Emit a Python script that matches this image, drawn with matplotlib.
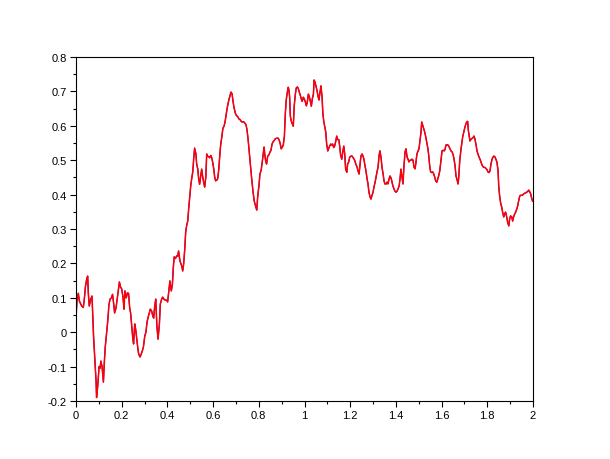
import numpy as np
import matplotlib
matplotlib.use('Agg')
import matplotlib.pyplot as plt
from matplotlib.ticker import MultipleLocator, FixedLocator, FixedFormatter

# path sampled by eye from the reference
t = [0.000, 0.004, 0.010, 0.015, 0.025, 0.032, 0.037, 0.041, 0.047, 0.051,
     0.054, 0.058, 0.064, 0.070, 0.073, 0.077, 0.083, 0.088, 0.090, 0.095,
     0.101, 0.105, 0.109, 0.114, 0.120, 0.124, 0.128, 0.134, 0.139, 0.144,
     0.149, 0.155, 0.160, 0.165, 0.169, 0.175, 0.179, 0.185, 0.190, 0.195,
     0.200, 0.206, 0.210, 0.214, 0.220, 0.225, 0.230, 0.235, 0.239, 0.244,
     0.248, 0.252, 0.257, 0.261, 0.266, 0.270, 0.274, 0.280, 0.284, 0.290,
     0.295, 0.301, 0.306, 0.311, 0.317, 0.321, 0.325, 0.331, 0.336, 0.340,
     0.344, 0.349, 0.354, 0.359, 0.365, 0.369, 0.375, 0.379, 0.385, 0.391,
     0.397, 0.401, 0.406, 0.411,
     0.413, 0.417, 0.422, 0.426, 0.430, 0.435, 0.441, 0.445, 0.449, 0.455,
     0.463, 0.467, 0.471, 0.476, 0.480, 0.484, 0.489, 0.493, 0.498, 0.502,
     0.506, 0.511, 0.515, 0.519, 0.522, 0.525, 0.528, 0.533, 0.537, 0.541,
     0.546, 0.550, 0.554, 0.559, 0.563, 0.568, 0.572, 0.576, 0.581, 0.585,
     0.590, 0.594, 0.598, 0.603, 0.607, 0.611, 0.616, 0.620, 0.625, 0.629,
     0.633, 0.638, 0.643, 0.648, 0.652, 0.656, 0.661, 0.665, 0.670, 0.674,
     0.678, 0.683, 0.687, 0.691, 0.696, 0.700, 0.705, 0.709, 0.713, 0.718,
     0.722, 0.726, 0.731, 0.735, 0.739, 0.744, 0.748, 0.753, 0.757, 0.761,
     0.769, 0.775, 0.780, 0.786, 0.791, 0.795, 0.801, 0.805, 0.810, 0.814,
     0.818, 0.823, 0.826, 0.830, 0.834, 0.839, 0.845, 0.849, 0.853, 0.858,
     0.862, 0.867, 0.872, 0.878, 0.885, 0.890, 0.894, 0.898, 0.903, 0.907,
     0.912, 0.916, 0.920, 0.925, 0.929, 0.932, 0.935, 0.938, 0.942, 0.947,
     0.951, 0.955, 0.960, 0.964, 0.969, 0.973, 0.977, 0.982, 0.986, 0.990,
     0.995, 0.999, 1.004, 1.008, 1.012, 1.017, 1.021, 1.025, 1.030, 1.034,
     1.039, 1.042, 1.046, 1.050, 1.055, 1.059, 1.063, 1.068, 1.072, 1.077,
     1.080, 1.084, 1.088, 1.093, 1.097, 1.102, 1.106, 1.110, 1.115, 1.119,
     1.123, 1.128, 1.132, 1.137, 1.141, 1.145, 1.150, 1.154, 1.158, 1.163,
     1.167, 1.172, 1.176, 1.180, 1.185, 1.189, 1.193, 1.198,
     1.204, 1.208, 1.212, 1.217, 1.221, 1.225, 1.230, 1.234, 1.239, 1.243,
     1.247, 1.252, 1.256, 1.260, 1.265, 1.269, 1.274, 1.278, 1.282, 1.287,
     1.291, 1.295, 1.300, 1.304, 1.309, 1.313, 1.317, 1.322, 1.326, 1.330,
     1.335, 1.339, 1.344, 1.348, 1.352, 1.357, 1.361, 1.365, 1.370, 1.374,
     1.379, 1.383, 1.387, 1.392, 1.396, 1.400, 1.405, 1.409, 1.414, 1.418,
     1.422, 1.427, 1.431, 1.435, 1.440, 1.444, 1.449, 1.453, 1.457, 1.462,
     1.466, 1.470, 1.475, 1.479, 1.484, 1.488, 1.492, 1.497, 1.501, 1.505,
     1.510, 1.513, 1.517, 1.522, 1.526, 1.530, 1.535, 1.539, 1.543, 1.548,
     1.552, 1.557, 1.561, 1.565, 1.570, 1.574, 1.579, 1.583, 1.587, 1.592,
     1.597, 1.602, 1.606, 1.611, 1.615, 1.619, 1.624, 1.628, 1.632, 1.637,
     1.641, 1.646, 1.650, 1.654, 1.659, 1.663, 1.667, 1.672, 1.675, 1.679,
     1.684, 1.688, 1.692, 1.697, 1.701, 1.706, 1.710, 1.714, 1.717, 1.721,
     1.724, 1.729, 1.733, 1.737, 1.742, 1.746, 1.751, 1.755, 1.759, 1.764,
     1.768, 1.772, 1.777, 1.781, 1.786, 1.790, 1.794, 1.799, 1.803, 1.807,
     1.812, 1.816, 1.821, 1.825, 1.829, 1.834, 1.838, 1.842, 1.847, 1.850,
     1.854, 1.859, 1.863, 1.867, 1.872, 1.876, 1.880, 1.885, 1.889, 1.894,
     1.898, 1.902, 1.907, 1.911, 1.915, 1.920, 1.924, 1.929, 1.933, 1.937,
     1.942, 1.946, 1.951, 1.955, 1.959, 1.964, 1.968, 1.972, 1.977, 1.981,
     1.985, 1.990, 1.994, 1.998]

w = [0.040, 0.090, 0.113, 0.090, 0.076, 0.072, 0.100, 0.131, 0.155, 0.163,
     0.113, 0.076, 0.095, 0.105, 0.053, -0.014, -0.084, -0.145, -0.190, -0.157,
     -0.100, -0.105, -0.084, -0.100, -0.145, -0.087, -0.043, 0.000, 0.033, 0.079,
     0.096, 0.100, 0.110, 0.082, 0.056, 0.070, 0.090, 0.120, 0.146, 0.131,
     0.126, 0.100, 0.067, 0.120, 0.100, 0.114, 0.113, 0.070, 0.056, 0.018,
     -0.014, -0.034, 0.024, 0.009, -0.020, -0.043, -0.063, -0.072, -0.066, -0.055,
     -0.043, -0.011, 0.000, 0.030, 0.047, 0.056, 0.067, 0.062, 0.047, 0.041,
     0.073, 0.096, 0.018, -0.020, 0.024, 0.082, 0.096, 0.102, 0.096, 0.093,
     0.093, 0.088, 0.120, 0.149,
     0.140, 0.120, 0.140, 0.190, 0.219, 0.214, 0.222, 0.221, 0.236, 0.207,
     0.192, 0.178, 0.198, 0.242, 0.291, 0.309, 0.323, 0.358, 0.396, 0.425,
     0.445, 0.466, 0.503, 0.535, 0.527, 0.518, 0.489, 0.474, 0.445, 0.430,
     0.454, 0.474, 0.454, 0.435, 0.422, 0.450, 0.518, 0.512, 0.510, 0.507,
     0.514, 0.507, 0.495, 0.474, 0.451, 0.440, 0.442, 0.446, 0.474, 0.512,
     0.544, 0.567, 0.593, 0.599, 0.610, 0.628, 0.649, 0.663, 0.678, 0.687,
     0.698, 0.693, 0.672, 0.655, 0.640, 0.632, 0.628, 0.625, 0.620, 0.618,
     0.614, 0.611, 0.612, 0.611, 0.608, 0.603, 0.590, 0.562, 0.533, 0.503,
     0.445, 0.407, 0.381, 0.367, 0.355, 0.393, 0.428, 0.460, 0.470, 0.489,
     0.512, 0.538, 0.518, 0.498, 0.489, 0.512, 0.516, 0.524, 0.528, 0.547,
     0.553, 0.557, 0.562, 0.564, 0.564, 0.557, 0.547, 0.533, 0.538, 0.544,
     0.570, 0.634, 0.675, 0.698, 0.712, 0.703, 0.683, 0.628, 0.614, 0.605,
     0.599, 0.658, 0.692, 0.710, 0.713, 0.708, 0.698, 0.688, 0.678, 0.671,
     0.683, 0.678, 0.669, 0.658, 0.668, 0.692, 0.685, 0.672, 0.657, 0.678,
     0.692, 0.733, 0.727, 0.716, 0.702, 0.687, 0.675, 0.697, 0.716, 0.683,
     0.640, 0.614, 0.599, 0.582, 0.547, 0.527, 0.534, 0.541, 0.547, 0.544,
     0.547, 0.537, 0.541, 0.556, 0.570, 0.560, 0.560, 0.541, 0.515, 0.503,
     0.522, 0.541, 0.518, 0.474, 0.465, 0.490, 0.494, 0.509,
     0.512, 0.512, 0.508, 0.503, 0.497, 0.488, 0.480, 0.469, 0.460, 0.488,
     0.512, 0.518, 0.512, 0.503, 0.483, 0.469, 0.445, 0.431, 0.407, 0.393,
     0.387, 0.397, 0.407, 0.422, 0.436, 0.451, 0.465, 0.480, 0.512, 0.527,
     0.508, 0.480, 0.460, 0.440, 0.431, 0.431, 0.436, 0.431, 0.445, 0.454,
     0.448, 0.436, 0.425, 0.416, 0.410, 0.407, 0.410, 0.416, 0.425, 0.445,
     0.474, 0.450, 0.431, 0.480, 0.524, 0.533, 0.509, 0.503, 0.495, 0.500,
     0.500, 0.503, 0.500, 0.480, 0.475, 0.495, 0.518, 0.527, 0.533, 0.556,
     0.582, 0.611, 0.602, 0.590, 0.582, 0.570, 0.553, 0.538, 0.518, 0.483,
     0.466, 0.464, 0.466, 0.461, 0.451, 0.440, 0.436, 0.445, 0.454, 0.469,
     0.497, 0.527, 0.529, 0.527, 0.531, 0.544, 0.545, 0.544, 0.540, 0.533,
     0.527, 0.524, 0.517, 0.505, 0.483, 0.454, 0.445, 0.431, 0.450, 0.495,
     0.527, 0.547, 0.567, 0.582, 0.593, 0.605, 0.611, 0.613, 0.587, 0.570,
     0.556, 0.561, 0.563, 0.565, 0.570, 0.561, 0.544, 0.527, 0.518, 0.509,
     0.503, 0.495, 0.486, 0.481, 0.479, 0.479, 0.476, 0.472, 0.466, 0.464,
     0.469, 0.489, 0.503, 0.509, 0.512, 0.509, 0.502, 0.495, 0.470, 0.425,
     0.396, 0.373, 0.364, 0.349, 0.335, 0.344, 0.349, 0.335, 0.320, 0.309,
     0.330, 0.338, 0.335, 0.323, 0.335, 0.344, 0.349, 0.358, 0.367, 0.381,
     0.396, 0.398, 0.398, 0.399, 0.402, 0.404, 0.405, 0.407, 0.409, 0.413,
     0.409, 0.402, 0.390, 0.381]

xticks = [0, 0.2, 0.4, 0.6, 0.8, 1.0, 1.2, 1.4, 1.6, 1.8, 2.0]
xlabels = ['0', '0.2', '0.4', '0.6', '0.8', '1', '1.2', '1.4', '1.6', '1.8', '2']
yticks = [-0.2, -0.1, 0, 0.1, 0.2, 0.3, 0.4, 0.5, 0.6, 0.7, 0.8]
ylabels = ['-0.2', '-0.1', '0', '0.1', '0.2', '0.3', '0.4', '0.5', '0.6', '0.7', '0.8']

plt.rcParams['font.family'] = ['Liberation Sans', 'DejaVu Sans']

fig = plt.figure(figsize = (6.1, 4.6), dpi = 100)
ax = fig.add_axes([76/610, 1 - 402/460, 457/610, 344/460])

# blue path underneath, red on top (blue only peeks through)
ax.plot(t, w, color = '#0000ff', linewidth = 0.8)
ax.plot(t, w, color = '#ff0000', linewidth = 1.1)

ax.set_xlim(0, 2)
ax.set_ylim(-0.2, 0.8)

ax.xaxis.set_major_locator(FixedLocator(xticks))
ax.xaxis.set_major_formatter(FixedFormatter(xlabels))
ax.yaxis.set_major_locator(FixedLocator(yticks))
ax.yaxis.set_major_formatter(FixedFormatter(ylabels))
ax.xaxis.set_minor_locator(MultipleLocator(0.1))
ax.yaxis.set_minor_locator(MultipleLocator(0.05))

ax.tick_params(axis = 'both', which = 'major', direction = 'out', length = 4,
               width = 0.8, labelsize = 8, pad = 2.5)
ax.tick_params(axis = 'both', which = 'minor', direction = 'out', length = 2.2,
               width = 0.8)
for s in ax.spines.values():
    s.set_linewidth(0.8)

fig.savefig('out.png', dpi = 100)
